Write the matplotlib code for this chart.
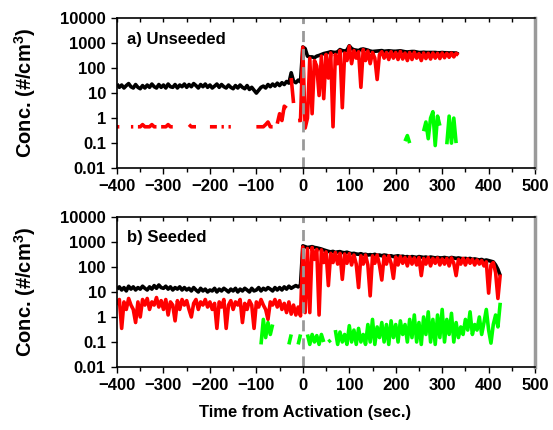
import numpy as np
import matplotlib
matplotlib.use("Agg")
import matplotlib.pyplot as plt
from matplotlib.ticker import FixedLocator, MultipleLocator, NullFormatter

plt.rcParams['font.family'] = ['Liberation Sans', 'DejaVu Sans']
plt.rcParams['font.weight'] = 'bold'
plt.rcParams['mathtext.fontset'] = 'custom'
plt.rcParams['mathtext.rm'] = 'Liberation Sans'
plt.rcParams['mathtext.bf'] = 'Liberation Sans:bold'

nan = np.nan
STEP = 5  # seconds between samples

# ---- a) Unseeded ----
# black, t = -400 .. 335
black_a = [23, 17, 21, 16, 20, 24, 18, 16, 22, 17, 15, 20, 16, 21, 17, 23, 18, 16, 22, 17,
           21, 16, 23, 18, 17, 22, 16, 21, 18, 23, 17, 22, 18, 24, 20, 16, 22, 18, 23, 17,
           21, 16, 19, 23, 17, 22, 18, 16, 21, 17, 15, 20, 16, 21, 17, 15, 20, 14, 17, 13,
           10, 13, 17, 19, 16, 22, 18, 23, 19, 25, 20, 26, 22, 29, 25, 65, 30, 26, 33, 28,
           700, 600, 300, 280, 280, 260, 300, 320, 350, 380, 400, 420, 450, 430, 420, 450, 550, 500, 480, 520,
           780, 600, 540, 520, 500, 560, 580, 550, 520, 480, 460, 470, 480, 490, 500, 470, 480, 490, 480, 470,
           470, 480, 490, 470, 450, 440, 450, 460, 460, 440, 420, 420, 430, 420, 420, 420, 420, 420, 410, 410,
           420, 410, 410, 400, 410, 400, 400, 360]
black_a_start = -400

# red, t = -400 .. 335
red_a = [0.45, 0.45, nan, nan, nan, nan, 0.45, 0.45, nan, 0.45, 0.45, 0.55, 0.45, 0.45, 0.45, 0.55, 0.45, 0.45, nan, 0.45,
         0.45, 0.45, 0.55, 0.45, 0.45, nan, nan, nan, nan, nan, nan, 0.55, 0.45, 0.45, 0.45, nan, nan, nan, nan, nan,
         0.45, 0.45, 0.45, 0.45, nan, 0.45, 0.45, nan, 0.45, 0.45, nan, nan, nan, nan, nan, nan, nan, nan, nan, nan,
         0.45, 0.45, 0.45, 0.45, 0.55, 0.7, 0.45, 0.45, nan, 0.6, 1.5, 0.8, 3, 2.5, nan, 40, 4, nan, 0.8, 0.8,
         680, 0.4, 1.0, 250, 1.5, 200, 120, 8, 300, 6, 350, 40, 400, 0.45, 350, 150, 500, 2.6, 400, 200,
         750, 150, 500, 250, 450, 17, 550, 200, 480, 150, 420, 250, 35, 350, 450, 250, 420, 220, 450, 250,
         420, 220, 460, 230, 400, 200, 420, 220, 430, 250, 380, 200, 400, 240, 390, 230, 400, 250, 390, 240,
         400, 260, 390, 270, 400, 280, 390, 330]
red_a_start = -400

# green, t = 220 .. 335
green_a = [0.12, 0.2, 0.1, nan, nan, nan, nan, nan, 0.3, 0.7, 0.15, 1.0, 1.8, 0.08, 1.2, 0.5,
           nan, nan, 0.09, 1.2, 0.1, 1.0, 0.1, nan]
green_a_start = 220

# ---- b) Seeded ----
# black, t = -400 .. 425
black_b = [13, 16, 12, 15, 11, 17, 13, 16, 12, 15, 13, 17, 14, 12, 16, 13, 18, 14, 19, 15,
           14, 17, 13, 16, 12, 15, 13, 16, 12, 15, 12, 14, 11, 15, 12, 10, 14, 11, 13, 10,
           12, 11, 14, 10, 13, 11, 14, 12, 10, 13, 11, 14, 10, 13, 11, 14, 12, 10, 14, 11,
           12, 15, 11, 14, 12, 15, 13, 11, 15, 12, 15, 12, 16, 13, 17, 14, 16, 18, 16, 19,
           700, 650, 600, 620, 650, 600, 580, 550, 520, 480, 450, 420, 400, 420, 380, 400, 410, 380, 370, 390,
           360, 340, 350, 330, 320, 340, 310, 320, 300, 310, 300, 320, 290, 300, 280, 300, 290, 270, 280, 260,
           270, 280, 260, 270, 250, 260, 240, 260, 250, 240, 260, 250, 240, 250, 230, 250, 240, 230, 240, 230,
           230, 240, 230, 220, 240, 230, 220, 230, 220, 210, 220, 210, 220, 200, 210, 200, 190, 200, 180, 190,
           180, 170, 160, 120, 80, 45]
black_b_start = -400

# red, t = -400 .. 425
red_b = [3, 5, 0.35, 4, 2, 5.5, 3, 2, 0.6, 4, 1, 5, 3, 5.5, 2, 4, 3, 6, 2.5, 4.5,
         2, 5, 1.2, 4, 3, 0.7, 4.5, 2, 5, 3, 4.5, 2, 1, 3.5, 5, 2, 4, 3, 5, 2.5,
         4, 2, 3.5, 0.35, 4, 2.5, 5, 0.35, 3, 4.5, 2, 4, 3, 5, 0.6, 3.5, 2, 4.5, 3, 0.35,
         4, 2.5, 5, 3, 2, 0.8, 4, 3, 5, 2.5, 4.5, 2, 3.5, 1.5, 4, 1.3, 3, 1.2, 2.5, 1.1,
         630, 1.5, 550, 1.5, 600, 200, 500, 1.2, 480, 150, 400, 18, 350, 150, 380, 130, 350, 32, 330, 140,
         340, 120, 300, 130, 15, 280, 130, 300, 120, 7, 280, 140, 300, 120, 30, 270, 130, 280, 140, 35,
         250, 120, 260, 140, 240, 110, 250, 130, 230, 120, 240, 45, 220, 130, 240, 110, 220, 140, 230, 120,
         210, 130, 220, 110, 230, 140, 45, 200, 130, 220, 120, 210, 140, 200, 120, 190, 130, 180, 110, 160,
         9, 120, 150, 60, 5.5, 50]
red_b_start = -400

# green, t = -95 .. 425
green_b = [nan, 0.08, 0.8, 0.15, 0.6, 0.2, 0.5, nan, nan, nan, nan, nan, nan, 0.08, 0.2, nan, nan, 0.08, 0.2, nan,
           nan, 0.2, 0.08, 0.2, 0.1, 0.18, 0.08, 0.2, 0.1, nan, 0.1, 0.12, nan, 0.3, 0.08, 0.25, 0.1, 0.2, 0.08, 0.45,
           0.1, 0.3, 0.08, 0.35, 0.1, 0.2, 0.08, 0.5, 0.1, 0.8, 0.08, 0.4, 0.15, 0.6, 0.1, 0.5, 0.08, 0.7, 0.15, 0.5,
           0.1, 0.7, 0.2, 0.5, 0.1, 0.8, 0.15, 1.2, 0.1, 0.6, 0.08, 1.0, 0.2, 1.6, 0.1, 0.8, 0.08, 1.2, 0.15, 2.0,
           0.1, 0.8, 0.2, 1.4, 0.1, 0.6, 0.15, 0.4, 0.2, 0.8, 0.3, 1.6, 0.2, 0.5, 0.3, 1.0, 0.2, 0.6, 2.0, 0.3,
           0.09, 0.5, 1.2, 0.4, 3.7]
green_b_start = -95

panels = [
    ("a) Unseeded", [(black_a, black_a_start, 'black'), (red_a, red_a_start, '#ff0000'),
                     (green_a, green_a_start, '#00ff00')]),
    ("b) Seeded", [(black_b, black_b_start, 'black'), (red_b, red_b_start, '#ff0000'),
                   (green_b, green_b_start, '#00ff00')]),
]

fig = plt.figure(figsize=(5.53, 4.30), dpi=100)
axes_pos = [[0.2116, 0.609, 0.756, 0.349], [0.2116, 0.1465, 0.756, 0.349]]

for pos, (title, series) in zip(axes_pos, panels):
    ax = fig.add_axes(pos)
    for vals, start, col in series:
        t = start + STEP * np.arange(len(vals))
        ax.plot(t, vals, color=col, lw=2.6, solid_joinstyle='round', solid_capstyle='butt')
    ax.set_yscale('log')
    ax.set_ylim(0.01, 10000)
    ax.set_xlim(-400, 500)
    ax.axvline(0, color='#999999', lw=2, ls=(0, (4, 2.5)))
    ax.yaxis.set_major_locator(FixedLocator([0.01, 0.1, 1, 10, 100, 1000, 10000]))
    ax.yaxis.set_minor_locator(FixedLocator([]))
    ax.set_yticklabels(['0.01', '0.1', '1', '10', '100', '1000', '10000'])
    ax.xaxis.set_major_locator(MultipleLocator(100))
    ax.xaxis.set_minor_locator(MultipleLocator(50))
    ax.tick_params(axis='both', which='major', direction='out', length=4, width=1,
                   labelsize=12, pad=4)
    ax.tick_params(axis='x', which='minor', direction='out', length=3, width=1)
    for lab in ax.get_xticklabels() + ax.get_yticklabels():
        lab.set_fontweight('bold')
    top = ax.secondary_xaxis('top')
    top.xaxis.set_major_locator(MultipleLocator(50))
    top.xaxis.set_major_formatter(NullFormatter())
    top.tick_params(direction='in', length=3, width=1)
    top.spines['top'].set_visible(False)
    for s in ['left', 'bottom', 'top']:
        ax.spines[s].set_linewidth(1.2)
    ax.spines['right'].set_color('#9a9a9a')
    ax.spines['right'].set_linewidth(2.5)
    ax.set_ylabel(r'Conc. (#/cm$^{\mathbf{3}}$)', fontsize=14.5, fontweight='bold')
    ax.yaxis.set_label_coords(-0.19, 0.5)
    ax.text(0.025, 0.86, title, transform=ax.transAxes, fontsize=12, fontweight='bold',
            va='center', ha='left')

fig.text(305 / 553, 1 - 412 / 430, 'Time from Activation (sec.)', fontsize=12,
         fontweight='bold', ha='center', va='center')

fig.savefig('out.png', dpi=100)
